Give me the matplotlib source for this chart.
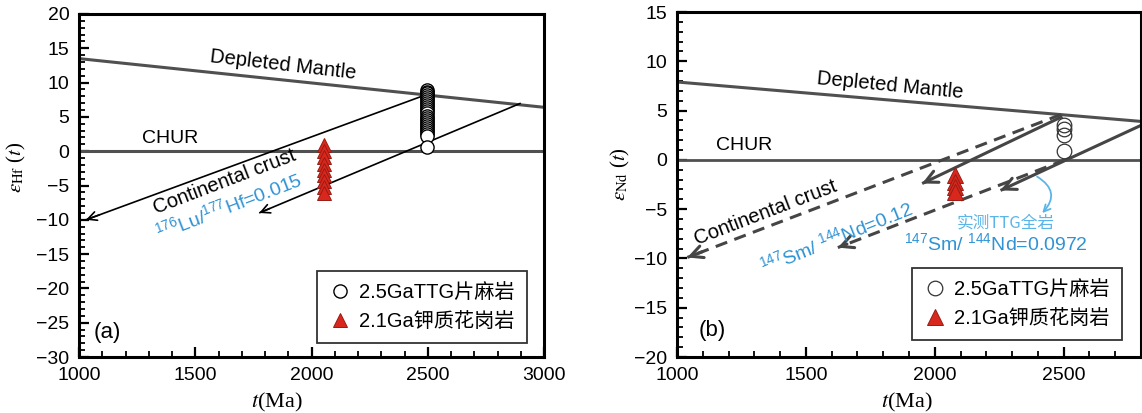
import matplotlib
matplotlib.use('Agg')
import matplotlib.pyplot as plt
from matplotlib.ticker import MultipleLocator

plt.rcParams['font.family'] = ['Liberation Sans', 'Noto Sans CJK SC']
plt.rcParams['mathtext.fontset'] = 'custom'
plt.rcParams['mathtext.rm'] = 'Liberation Sans'
plt.rcParams['mathtext.it'] = 'Liberation Sans:italic'

# ---- panel (a): Hf ----
hf_ttg_age = 2497
hf_ttg_eps = [8.9, 8.7, 8.5, 8.2, 7.9, 7.6, 7.3, 7.0, 6.7, 6.4, 6.1, 5.8,
              5.5, 5.2, 4.9, 4.6, 4.3, 4.0, 3.7, 3.4, 3.1, 2.8, 2.5, 2.2, 0.6]
hf_gr_age = 2054
hf_gr_eps = [0.9, 0.0, -0.8, -1.8, -2.7, -3.5, -4.3, -5.2, -6.1]
hf_dm_age = [1000, 3000]
hf_dm_eps = [13.5, 6.4]
hf_chur_age = [1000, 3000]
hf_chur_eps = [0, 0]
hf_cc1_age = [2490, 1030]
hf_cc1_eps = [8.2, -10.0]
hf_cc2_age = [2900, 1775]
hf_cc2_eps = [7.0, -9.0]

# ---- panel (b): Nd ----
nd_ttg_age = 2500
nd_ttg_eps = [3.5, 3.1, 2.5, 0.85]
nd_gr_age = 2080
nd_gr_eps = [-1.5, -2.2, -2.8, -3.3]
nd_dm_age = [1000, 2800]
nd_dm_eps = [7.9, 3.9]
nd_chur_age = [1000, 2800]
nd_chur_eps = [0, 0]
nd_solid1_age = [2495, 1951]
nd_solid1_eps = [4.4, -2.4]
nd_solid2_age = [2800, 2255]
nd_solid2_eps = [3.5, -3.1]
nd_dash1_age = [2490, 1040]
nd_dash1_eps = [4.6, -9.9]
nd_dash2_age = [2505, 1624]
nd_dash2_eps = [0.0, -8.9]

legend_labels = ['2.5GaTTG片麻岩', '2.1Ga钾质花岗岩']

blue = '#2f93d4'
light_blue = '#5bb5e8'
gray = '#505050'
red = '#d8281e'

fig = plt.figure(figsize=(11.42, 4.13), dpi=100)
ax_a = fig.add_axes([79 / 1142, 56 / 413, 465 / 1142, 343 / 413])
ax_b = fig.add_axes([677 / 1142, 56 / 413, 464 / 1142, 345 / 413])


def style_axes(ax):
    for sp in ax.spines.values():
        sp.set_linewidth(2.2)
        sp.set_color('black')
    ax.xaxis.set_major_locator(MultipleLocator(500))
    ax.xaxis.set_minor_locator(MultipleLocator(100))
    ax.yaxis.set_major_locator(MultipleLocator(5))
    ax.yaxis.set_minor_locator(MultipleLocator(1))
    ax.tick_params(which='major', direction='in', length=7, width=1.6,
                   labelsize=14, pad=7, top=False, right=False)
    ax.tick_params(which='minor', direction='in', length=4, width=1.3,
                   top=False, right=False)


def arrow(ax, age, eps, color, lw, scale, ls='-'):
    ax.plot(age, eps, color=color, lw=lw, ls=ls, dashes=(4, 2.5) if ls == '--' else (None, None),
            solid_capstyle='butt')
    # arrow head at the end of the line
    t0 = age[1] + (age[0] - age[1]) * 0.04
    e0 = eps[1] + (eps[0] - eps[1]) * 0.04
    ax.annotate('', xy=(age[1], eps[1]), xytext=(t0, e0),
                arrowprops=dict(arrowstyle='->', color=color, lw=lw,
                                mutation_scale=scale, shrinkA=0, shrinkB=0))


def add_legend(ax, handles, anchor):
    leg = ax.legend(handles, legend_labels, loc='lower right',
                    bbox_to_anchor=anchor, fontsize=14.5, frameon=True,
                    fancybox=False, edgecolor='black', borderpad=0.6,
                    labelspacing=0.5, handletextpad=0.4, handlelength=1.1,
                    borderaxespad=0)
    leg.get_frame().set_linewidth(1.3)


# ---------------- panel (a) ----------------
ax = ax_a
style_axes(ax)
ax.set_xlim(1000, 3000)
ax.set_ylim(-30, 20)
ax.plot(hf_dm_age, hf_dm_eps, color=gray, lw=2.2)
ax.plot(hf_chur_age, hf_chur_eps, color=gray, lw=2.2)
arrow(ax, hf_cc1_age, hf_cc1_eps, 'black', 1.2, 16)
arrow(ax, hf_cc2_age, hf_cc2_eps, 'black', 1.2, 16)
h1, = ax.plot([hf_ttg_age] * len(hf_ttg_eps), hf_ttg_eps, 'o', ms=9.5,
              mfc='white', mec='black', mew=1.0, ls='none')
h2, = ax.plot([hf_gr_age] * len(hf_gr_eps), hf_gr_eps, '^', ms=10,
              mfc=red, mec='#9a1a12', mew=0.7, ls='none')
ax.text(1877, 12.6, 'Depleted Mantle', fontsize=14.5, rotation=-6.6,
        ha='center', va='center')
ax.text(1394, 1.9, 'CHUR', fontsize=14, ha='center', va='center')
ax.text(1626, -4.4, 'Continental crust', fontsize=14.5, rotation=21,
        ha='center', va='center')
ax.text(1642, -8.0, r'$^{176}$Lu/$^{177}$Hf=0.015', fontsize=14,
        rotation=21, ha='center', va='center', color=blue)
ax.text(1065, -26.5, '(a)', fontsize=16, ha='left', va='center')
add_legend(ax, [h1, h2], (0.963, 0.041))

# ---------------- panel (b) ----------------
ax = ax_b
style_axes(ax)
ax.set_xlim(1000, 2800)
ax.set_ylim(-20, 15)
ax.plot(nd_dm_age, nd_dm_eps, color=gray, lw=2.2)
ax.plot(nd_chur_age, nd_chur_eps, color=gray, lw=2.0)
arrow(ax, nd_dash1_age, nd_dash1_eps, '#454545', 2.2, 22, ls='--')
arrow(ax, nd_dash2_age, nd_dash2_eps, '#454545', 2.2, 22, ls='--')
arrow(ax, nd_solid1_age, nd_solid1_eps, '#454545', 2.2, 22)
arrow(ax, nd_solid2_age, nd_solid2_eps, '#454545', 2.2, 22)
g1, = ax.plot([nd_ttg_age] * len(nd_ttg_eps), nd_ttg_eps, 'o', ms=10.5,
              mfc='none', mec='#333333', mew=0.9, ls='none')
g2, = ax.plot([nd_gr_age] * len(nd_gr_eps), nd_gr_eps, '^', ms=11,
              mfc=red, mec='#9a1a12', mew=0.7, ls='none')
ax.text(1826, 7.5, 'Depleted Mantle', fontsize=14.5, rotation=-5.5,
        ha='center', va='center')
ax.text(1259, 1.5, 'CHUR', fontsize=14, ha='center', va='center')
ax.text(1342, -5.4, 'Continental crust', fontsize=14.5, rotation=21,
        ha='center', va='center')
ax.text(1617, -7.9, r'$^{147}$Sm/ $^{144}$Nd=0.12', fontsize=14,
        rotation=22, ha='center', va='center', color=blue)
ax.text(2276, -6.4, '实测TTG全岩', fontsize=12, ha='center', va='center',
        color=light_blue, family=['Noto Sans CJK SC', 'Liberation Sans'])
ax.text(2235, -8.4, r'$^{147}$Sm/ $^{144}$Nd=0.0972', fontsize=14,
        ha='center', va='center', color=blue)
ax.annotate('', xy=(2417, -5.4), xytext=(2397, -1.7),
            arrowprops=dict(arrowstyle='->', color=light_blue, lw=1.3,
                            connectionstyle='arc3,rad=-0.6',
                            shrinkA=0, shrinkB=0, mutation_scale=12))
ax.text(1085, -17.3, '(b)', fontsize=16, ha='left', va='center')
add_legend(ax, [g1, g2], (0.959, 0.049))

# axis labels
fig.text(277 / 1142, 1 - 402 / 413, r'$t$(Ma)', fontsize=16, ha='center',
         va='center', family='Liberation Serif', math_fontfamily='stix')
fig.text(907 / 1142, 1 - 402 / 413, r'$t$(Ma)', fontsize=16, ha='center',
         va='center', family='Liberation Serif', math_fontfamily='stix')
fig.text(16 / 1142, 1 - 167 / 413, r'$\varepsilon_{\mathrm{Hf}}$ ($t$)',
         fontsize=15, rotation=90, ha='center', va='center',
         family='Liberation Serif', math_fontfamily='stix')
fig.text(620 / 1142, 1 - 174 / 413, r'$\varepsilon_{\mathrm{Nd}}$ ($t$)',
         fontsize=15, rotation=90, ha='center', va='center',
         family='Liberation Serif', math_fontfamily='stix')

fig.savefig('out.png', dpi=100)
